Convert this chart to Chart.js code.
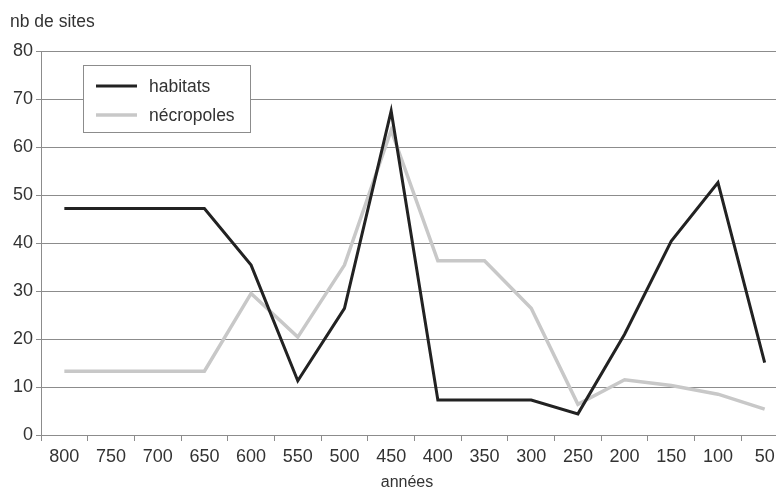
<!DOCTYPE html>
<html>
<head>
<meta charset="utf-8">
<script src="https://cdn.jsdelivr.net/npm/chart.js@4"></script>
<style>
  html, body { margin: 0; padding: 0; background: #fff; overflow: hidden; }
  #wrap { width: 788px; height: 491px; }
</style>
</head>
<body>
<div id="wrap"><canvas id="sitesChart" width="788" height="491"></canvas></div>
<script>
const annees = ["800", "750", "700", "650", "600", "550", "500", "450", "400", "350", "300", "250", "200", "150", "100", "50"];
const habitats = [47.2, 47.2, 47.2, 47.2, 35.4, 11.3, 26.4, 67.5, 7.3, 7.3, 7.3, 4.4, 21.0, 40.4, 52.6, 15.1];
const necropoles = [13.3, 13.3, 13.3, 13.3, 29.5, 20.4, 35.4, 63.5, 36.3, 36.3, 26.4, 6.4, 11.5, 10.3, 8.5, 5.4];

const gridColor = "#8c8c8c";
const textColor = "#333333";
const fontFamily = "'Liberation Sans', Arial, sans-serif";

// legend box, axis captions drawn on top
const overlay = {
  id: "overlay",
  afterDraw(chart) {
    const c = chart.ctx;
    c.save();
    c.font = "17.5px " + fontFamily;
    c.fillStyle = textColor;
    c.textBaseline = "middle";
    c.textAlign = "left";
    c.fillText("nb de sites", 10, 22);

    c.font = "16px " + fontFamily;
    c.textAlign = "center";
    c.fillText("années", 407, 483);

    // legend
    c.textAlign = "left";
    c.fillStyle = "#ffffff";
    c.fillRect(83, 65, 168, 67);
    c.strokeStyle = gridColor;
    c.lineWidth = 1;
    c.strokeRect(83.5, 65.5, 167, 67);
    const rows = [86, 115];
    chart.data.datasets.forEach((ds, i) => {
      c.strokeStyle = ds.borderColor;
      c.lineWidth = ds.borderWidth;
      c.beginPath();
      c.moveTo(96, rows[i]);
      c.lineTo(137, rows[i]);
      c.stroke();
      c.fillStyle = textColor;
      c.font = "17.5px " + fontFamily;
      c.fillText(ds.label, 149, rows[i] + 1);
    });
    c.restore();
  },
};

const ctx = document.getElementById("sitesChart").getContext("2d");
new Chart(ctx, {
  type: "line",
  data: {
    labels: annees,
    datasets: [
      {
        label: "habitats",
        data: habitats,
        borderColor: "#222222",
        borderWidth: 3,
        pointRadius: 0,
        tension: 0,
        fill: false,
      },
      {
        label: "nécropoles",
        data: necropoles,
        borderColor: "#c8c8c8",
        borderWidth: 3.5,
        pointRadius: 0,
        tension: 0,
        fill: false,
      },
    ],
  },
  options: {
    responsive: false,
    animation: false,
    devicePixelRatio: 1,
    layout: { padding: { top: 51, left: 0, right: 0, bottom: 0 } },
    plugins: {
      legend: { display: false },
      tooltip: { enabled: false },
    },
    scales: {
      x: {
        offset: true,
        grid: {
          offset: true,
          drawOnChartArea: false,
          drawTicks: true,
          tickLength: 6,
          color: gridColor,
        },
        border: { color: gridColor },
        ticks: {
          color: textColor,
          font: { family: fontFamily, size: 18 },
          padding: 5,
          maxRotation: 0,
          autoSkip: false,
        },
        afterFit(scale) {
          scale.height = 56;
        },
      },
      y: {
        min: 0,
        max: 80,
        grid: {
          color: gridColor,
          tickLength: 5,
        },
        border: { color: gridColor },
        ticks: {
          stepSize: 10,
          color: textColor,
          font: { family: fontFamily, size: 18 },
          padding: 3,
        },
        afterFit(scale) {
          scale.width = 41;
        },
      },
    },
  },
  plugins: [overlay],
});
</script>
</body>
</html>
